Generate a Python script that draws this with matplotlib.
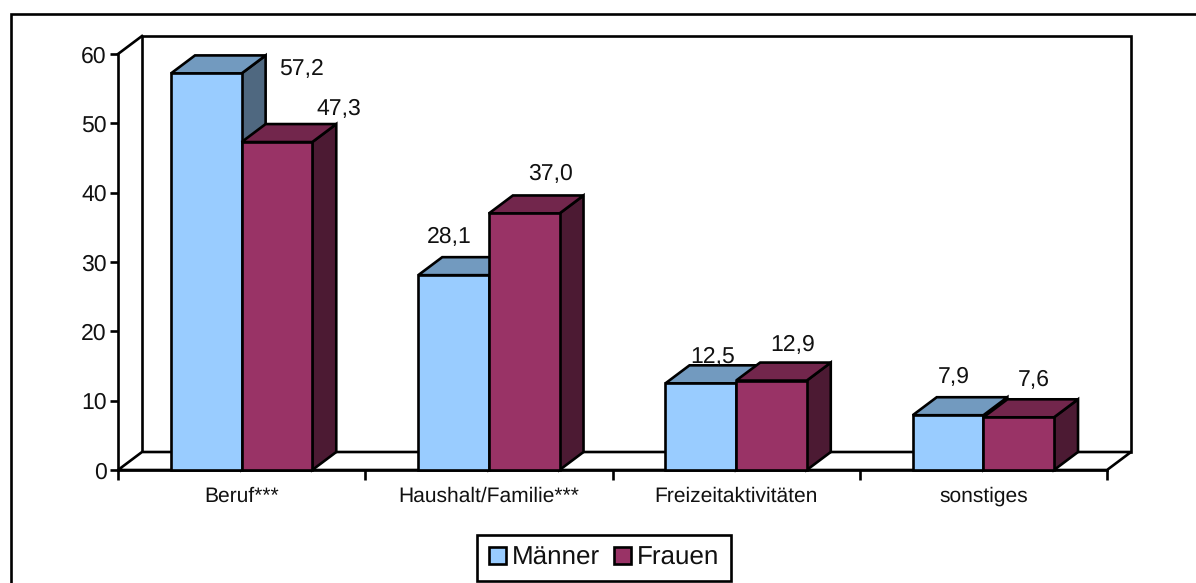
#!/usr/bin/env python3
'''
3D looking grouped bar chart, drawn with polygons on a normal 2D axes
'''
import numpy as np
import matplotlib
matplotlib.use('Agg')
import matplotlib.pyplot as plt
from matplotlib.lines import Line2D
from matplotlib.patches import Patch, Polygon

categories = ['Beruf***', 'Haushalt/Familie***', 'Freizeitaktivitäten', 'sonstiges']
maenner = [57.2, 28.1, 12.5, 7.9]
frauen = [47.3, 37.0, 12.9, 7.6]
y_ticks = [0, 10, 20, 30, 40, 50, 60]

# pixel offset of each value label from the front top left corner of its bar
offset_maenner = [(130, 4), (31, 38), (47, 26), (41, 38)]
offset_frauen = [(97, 33), (62, 39), (57, 35), (50, 37)]

WIDTH, HEIGHT = 1196, 583
plt.rcParams['font.family'] = ['Liberation Sans', 'DejaVu Sans']
plt.rcParams['text.hinting'] = 'no_hinting'
plt.rcParams['text.hinting_factor'] = 1

fig = plt.figure(figsize=(WIDTH / 100, HEIGHT / 100), dpi=100)
ax = fig.add_axes([118 / WIDTH, 1 - 470 / HEIGHT, 989 / WIDTH, 416 / HEIGHT])
ax.set_xlim(0, 4)
ax.set_ylim(0, 60)
ax.patch.set_visible(False)

LW = 1.9
px_x = 4 / 989  # one pixel in x data units
px_y = 60 / 416  # one pixel in y data units
dx = 24 * px_x  # depth of the fake 3D
dy = 18 * px_y
bar_w = 1 / 3.5


def poly(points, color, z):
    ax.add_patch(Polygon(points, closed=True, facecolor=color, edgecolor='black',
                         linewidth=LW, joinstyle='miter', clip_on=False, zorder=z))


def box(x, value, front, top, side, z):
    '''draw one bar as front, top and side faces'''
    poly([(x + bar_w, 0), (x + bar_w + dx, dy), (x + bar_w + dx, value + dy), (x + bar_w, value)], side, z)
    poly([(x, value), (x + dx, value + dy), (x + bar_w + dx, value + dy), (x + bar_w, value)], top, z)
    poly([(x, 0), (x + bar_w, 0), (x + bar_w, value), (x, value)], front, z)


# back wall and floor
poly([(dx, dy), (4 + dx, dy), (4 + dx, 60 + dy), (dx, 60 + dy)], 'white', 1)
poly([(0, 0), (4, 0), (4 + dx, dy), (dx, dy)], 'white', 1)
ax.add_line(Line2D([0, dx], [60, 60 + dy], color='black', linewidth=LW, clip_on=False, zorder=1))

centers = np.arange(len(categories)) + 0.5
for i, c in enumerate(centers):
    box(c - bar_w, maenner[i], '#99CCFF', '#729ABF', '#4F6880', 3 + i)
    box(c, frauen[i], '#993366', '#72264C', '#4C1A33', 3.5 + i)
    ax.annotate(f'{maenner[i]:.1f}'.replace('.', ','), (c - bar_w, maenner[i]),
                xytext=offset_maenner[i], textcoords='offset pixels', fontsize=16.8,
                ha='center', va='center', color='#111111', zorder=10, annotation_clip=False)
    ax.annotate(f'{frauen[i]:.1f}'.replace('.', ','), (c, frauen[i]),
                xytext=offset_frauen[i], textcoords='offset pixels', fontsize=16.8,
                ha='center', va='center', color='#111111', zorder=10, annotation_clip=False)

for side in ['top', 'right']:
    ax.spines[side].set_visible(False)
for side in ['left', 'bottom']:
    ax.spines[side].set_linewidth(LW)
    ax.spines[side].set_zorder(2)

ax.set_yticks(y_ticks)
ax.tick_params(axis='y', length=6, width=LW, pad=2, labelsize=16.8, labelcolor='#111111')
ax.set_xticks(np.arange(5))
ax.set_xticklabels([])
ax.tick_params(axis='x', which='major', length=7, width=LW)
ax.set_xticks(centers, minor=True)
ax.set_xticklabels(categories, minor=True, fontsize=15.2, color='#111111')
ax.tick_params(axis='x', which='minor', length=0, pad=12)

# outer frame, only top and left are inside the picture
fig.add_artist(Line2D([10.5 / WIDTH, 10.5 / WIDTH, 1], [0, 1 - 13.5 / HEIGHT, 1 - 13.5 / HEIGHT],
                      color='black', linewidth=LW, solid_joinstyle='miter'))

handles = [Patch(facecolor='#99CCFF', edgecolor='black', linewidth=LW, label='Männer'),
           Patch(facecolor='#993366', edgecolor='black', linewidth=LW, label='Frauen')]
leg = fig.legend(handles=handles, loc='center', bbox_to_anchor=(604 / WIDTH, 1 - 558 / HEIGHT),
                 ncol=2, fontsize=18.5, fancybox=False, framealpha=1, edgecolor='black',
                 handlelength=0.66, handleheight=0.66, handletextpad=0.24, columnspacing=0.55,
                 borderpad=0.44, borderaxespad=0)
leg.get_frame().set_linewidth(LW)
for t in leg.get_texts():
    t.set_color('#111111')

fig.savefig('out.png', dpi=100)
